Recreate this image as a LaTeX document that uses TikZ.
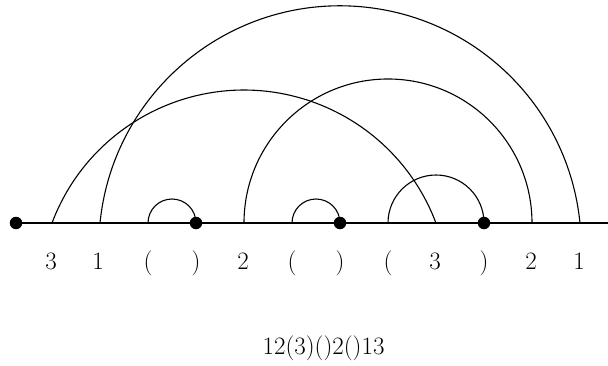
\documentclass[tikz,border=0pt]{standalone}
\begin{document}
\begin{tikzpicture}[x=1pt,y=1pt,
  every path/.style={line width=1.1pt},
  dot/.style={circle,fill=black,inner sep=0pt,minimum size=12.5pt},
  lbl/.style={font=\fontsize{25}{30}\selectfont,inner sep=0pt},
  arcline/.style={draw=black,line width=1.1pt}]
\useasboundingbox (0,0) rectangle (608,365);
% base line and dots
\coordinate (E) at (608,142);
\node[dot] (d0) at (16,142) {};
\node[dot] (d1) at (196,142) {};
\node[dot] (d2) at (340,142) {};
\node[dot] (d3) at (484,142) {};
\draw (d0.center) -- (E);
% feet
\coordinate (f1) at (52,142);
\coordinate (f2) at (100,142);
\coordinate (f3) at (148,142);
\coordinate (f5) at (244,142);
\coordinate (f6) at (292,142);
\coordinate (f8) at (388,142);
\coordinate (f9) at (436,142);
\coordinate (f11) at (532,142);
\coordinate (f12) at (580,142);
% arcs
\draw[arcline] (f1) arc[start angle=159.4, end angle=20.6, radius=205.1];
\draw[arcline] (f2) arc[start angle=174.29, end angle=5.71, radius=241.2];
\draw[arcline] (f5) arc[start angle=180, end angle=0, radius=144];
\draw[arcline] (f3) arc[start angle=180, end angle=0, radius=24];
\draw[arcline] (f6) arc[start angle=180, end angle=0, radius=24];
\draw[arcline] (f8) arc[start angle=180, end angle=0, radius=48];
% labels
\node[lbl] (l1) at (51,104) {3};
\node[lbl] (l2) at (98,104) {1};
\node[lbl] (l3) at (148,102) {(};
\node[lbl] (l4) at (196,102) {)};
\node[lbl] (l5) at (243,104) {2};
\node[lbl] (l6) at (292,102) {(};
\node[lbl] (l7) at (340,102) {)};
\node[lbl] (l8) at (388,102) {(};
\node[lbl] (l9) at (435,104) {3};
\node[lbl] (l10) at (484,102) {)};
\node[lbl] (l11) at (531,104) {2};
\node[lbl] (l12) at (579,104) {1};
\node[lbl,anchor=west] (w) at (262,17) {12(3)()2()13};
\end{tikzpicture}
\end{document}
